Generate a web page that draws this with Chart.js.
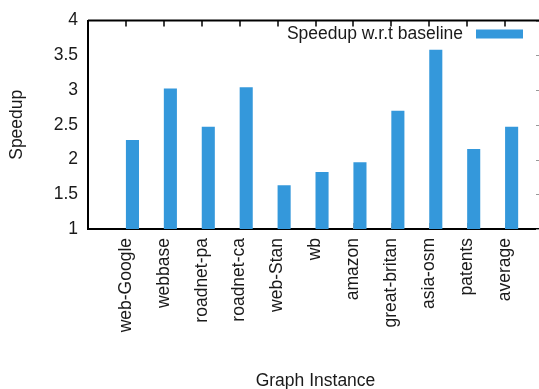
<!DOCTYPE html>
<html>
<head>
<meta charset="utf-8">
<script src="https://cdn.jsdelivr.net/npm/chart.js@4"></script>
<style>
  html, body { margin: 0; padding: 0; background: #fff; overflow: hidden; }
  #wrap { width: 545px; height: 389px; }
</style>
</head>
<body>
<div id="wrap"><canvas id="speedupChart" width="545" height="389"></canvas></div>
<script>
const graphs = ['web-Google', 'webbase', 'roadnet-pa', 'roadnet-ca', 'web-Stan', 'wb', 'amazon', 'great-britan', 'asia-osm', 'patents', 'average'];
const speedup = [2.28, 3.02, 2.47, 3.04, 1.63, 1.82, 1.96, 2.70, 3.58, 2.15, 2.47];
const yTicks = [1, 1.5, 2, 2.5, 3, 3.5, 4];

const font = { family: 'Liberation Sans', size: 17.5 };
const ink = '#1a1a1a';

// gnuplot style frame: top border, small inward ticks, key in the top right corner
const frameTicks = {
  id: 'frameTicks',
  beforeDatasetsDraw(chart) {
    const { ctx, chartArea: a, scales: { x, y } } = chart;
    ctx.save();
    ctx.strokeStyle = '#999';
    ctx.lineWidth = 1;
    graphs.forEach((g, i) => {
      const px = Math.round(x.getPixelForValue(i)) + 0.5;
      ctx.beginPath(); ctx.moveTo(px, a.bottom); ctx.lineTo(px, a.bottom - 6); ctx.stroke();
    });
    yTicks.forEach(v => {
      const py = Math.round(y.getPixelForValue(v)) + 0.5;
      ctx.beginPath(); ctx.moveTo(a.right, py); ctx.lineTo(a.right - 7, py); ctx.stroke();
    });
    ctx.restore();
  },
  afterDraw(chart) {
    const { ctx, chartArea: a, scales: { x } } = chart;
    ctx.save();
    ctx.strokeStyle = '#000';
    ctx.lineWidth = 2;
    ctx.beginPath(); ctx.moveTo(a.left, a.top); ctx.lineTo(a.right, a.top); ctx.stroke();
    ctx.lineWidth = 1.5;
    graphs.forEach((g, i) => {
      const px = Math.round(x.getPixelForValue(i));
      ctx.beginPath(); ctx.moveTo(px, a.top); ctx.lineTo(px, a.top + 6); ctx.stroke();
    });
    // key
    const ds = chart.data.datasets[1];
    const boxRight = a.right - 20;
    const boxTop = a.top + 9;
    ctx.fillStyle = ds.backgroundColor;
    ctx.fillRect(boxRight - 47, boxTop, 47, 9);
    ctx.fillStyle = ink;
    ctx.font = font.size + 'px ' + font.family;
    ctx.textAlign = 'right';
    ctx.textBaseline = 'middle';
    ctx.fillText(ds.label, boxRight - 60, boxTop + 5);
    ctx.restore();
  }
};

new Chart(document.getElementById('speedupChart'), {
  type: 'bar',
  data: {
    datasets: [{
      label: 'spacer',
      data: graphs.map((g, i) => ({ x: i, y: null })),
      backgroundColor: 'transparent'
    }, {
      label: 'Speedup w.r.t baseline',
      data: graphs.map((g, i) => ({ x: i, y: speedup[i] })),
      backgroundColor: '#3498db',
      borderWidth: 0
    }]
  },
  options: {
    responsive: false,
    animation: false,
    devicePixelRatio: 1,
    categoryPercentage: 0.69,
    barPercentage: 1,
    layout: { padding: { left: 0, right: 2, top: 14, bottom: 0 } },
    scales: {
      x: {
        type: 'linear',
        offset: false,
        min: -1,
        max: 11,
        afterFit: s => { s.height = 160; s.paddingLeft = 0; s.paddingRight = 0; },
        grid: { drawOnChartArea: false, drawTicks: false, color: 'transparent' },
        border: { display: true, color: '#000', width: 2 },
        ticks: {
          stepSize: 1,
          autoSkip: false,
          minRotation: 90,
          maxRotation: 90,
          padding: 9,
          color: ink,
          font: font,
          callback: v => graphs[v]
        },
        title: {
          display: true,
          text: 'Graph Instance',
          color: ink,
          font: font,
          padding: { top: 0, bottom: -3 }
        }
      },
      y: {
        min: 1,
        max: 4,
        afterFit: s => { s.width = 88; },
        grid: { drawOnChartArea: false, drawTicks: false, color: 'transparent' },
        border: { display: true, color: '#000', width: 2 },
        ticks: {
          stepSize: 0.5,
          padding: 10,
          color: ink,
          font: font,
          callback: v => String(v)
        },
        title: {
          display: true,
          text: 'Speedup',
          color: ink,
          font: font,
          padding: { top: 7, bottom: 0 }
        }
      }
    },
    plugins: {
      legend: { display: false },
      tooltip: { enabled: false }
    }
  },
  plugins: [frameTicks]
});
</script>
</body>
</html>
